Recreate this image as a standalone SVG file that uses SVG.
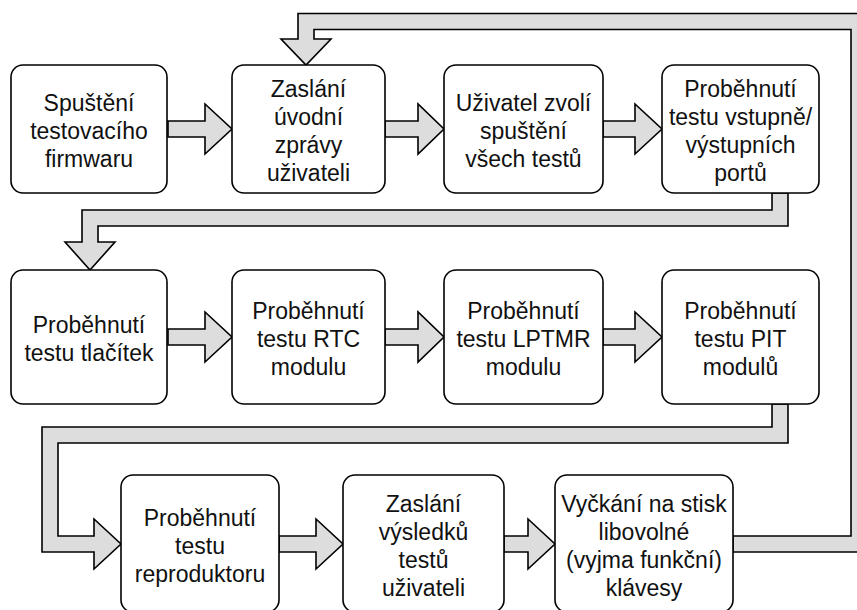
<svg xmlns="http://www.w3.org/2000/svg" width="857" height="610" viewBox="0 0 857 610">
<style>
.box{fill:#ffffff;stroke:#000;stroke-width:1.6}
.arr{fill:#dddddd;stroke:#000;stroke-width:1.6;stroke-linejoin:miter}
text{font-family:"Liberation Sans",Arial,Helvetica,sans-serif;font-size:23px;fill:#111;text-anchor:middle}
</style>
<rect width="857" height="610" fill="#ffffff"/>
<g id="connectors">
<polygon class="arr" points="168,121 205,121 205,104 232,129 205,154 205,137 168,137"/>
<polygon class="arr" points="385,121 418,121 418,104 444,129 418,154 418,137 385,137"/>
<polygon class="arr" points="603,121 635,121 635,104 662,129 635,154 635,137 603,137"/>
<polygon class="arr" points="168,329 205,329 205,312 232,337 205,362 205,345 168,345"/>
<polygon class="arr" points="385,329 418,329 418,312 444,337 418,362 418,345 385,345"/>
<polygon class="arr" points="603,329 635,329 635,312 662,337 635,362 635,345 603,345"/>
<polygon class="arr" points="279,536 316,536 316,519 343,544 316,569 316,552 279,552"/>
<polygon class="arr" points="504,536 528,536 528,519 555,544 528,569 528,552 504,552"/>
<polygon class="arr" points="733,536 851,536 851,29.5 314,29.5 314,39 331,39 306,65 281,39 298,39 298,13.5 867,13.5 867,552 733,552"/>
<polygon class="arr" points="772,193 788,193 788,226 98,226 98,242 115,242 90,270 65,242 82,242 82,210 772,210"/>
<polygon class="arr" points="772,404 788,404 788,443 58,443 58,536 94,536 94,519 121,544 94,569 94,552 42,552 42,427 772,427"/>
</g>
<g id="n1"><rect class="box" x="11" y="65" width="156" height="128" rx="12"/>
<text x="89" y="110.5">Spuštění</text><text x="89" y="138.5">testovacího</text><text x="89" y="166.5">firmwaru</text></g>
<g id="n2"><rect class="box" x="232" y="65" width="153" height="128" rx="12"/>
<text x="308.5" y="96.5">Zaslání</text><text x="308.5" y="124.5">úvodní</text><text x="308.5" y="152.5">zprávy</text><text x="308.5" y="180.5">uživateli</text></g>
<g id="n3"><rect class="box" x="444" y="65" width="159" height="128" rx="12"/>
<text x="523.5" y="110.5">Uživatel zvolí</text><text x="523.5" y="138.5">spuštění</text><text x="523.5" y="166.5">všech testů</text></g>
<g id="n4"><rect class="box" x="662" y="65" width="157" height="128" rx="12"/>
<text x="740.5" y="96.5">Proběhnutí</text><text x="740.5" y="124.5">testu vstupně/</text><text x="740.5" y="152.5">výstupních</text><text x="740.5" y="180.5">portů</text></g>
<g id="n5"><rect class="box" x="11" y="270" width="156" height="134" rx="12"/>
<text x="89" y="332.5">Proběhnutí</text><text x="89" y="360.5">testu tlačítek</text></g>
<g id="n6"><rect class="box" x="232" y="270" width="153" height="134" rx="12"/>
<text x="308.5" y="318.5">Proběhnutí</text><text x="308.5" y="346.5">testu RTC</text><text x="308.5" y="374.5">modulu</text></g>
<g id="n7"><rect class="box" x="444" y="270" width="159" height="134" rx="12"/>
<text x="523.5" y="318.5">Proběhnutí</text><text x="523.5" y="346.5">testu LPTMR</text><text x="523.5" y="374.5">modulu</text></g>
<g id="n8"><rect class="box" x="662" y="270" width="157" height="134" rx="12"/>
<text x="740.5" y="318.5">Proběhnutí</text><text x="740.5" y="346.5">testu PIT</text><text x="740.5" y="374.5">modulů</text></g>
<g id="n9"><rect class="box" x="121" y="475" width="158" height="137" rx="12"/>
<text x="200" y="525.5">Proběhnutí</text><text x="200" y="553.5">testu</text><text x="200" y="581.5">reproduktoru</text></g>
<g id="n10"><rect class="box" x="343" y="475" width="161" height="137" rx="12"/>
<text x="423.5" y="511.5">Zaslání</text><text x="423.5" y="539.5">výsledků</text><text x="423.5" y="567.5">testů</text><text x="423.5" y="595.5">uživateli</text></g>
<g id="n11"><rect class="box" x="555" y="475" width="178" height="137" rx="12"/>
<text x="644" y="511.5">Vyčkání na stisk</text><text x="644" y="539.5">libovolné</text><text x="644" y="567.5">(vyjma funkční)</text><text x="644" y="595.5">klávesy</text></g>
</svg>
